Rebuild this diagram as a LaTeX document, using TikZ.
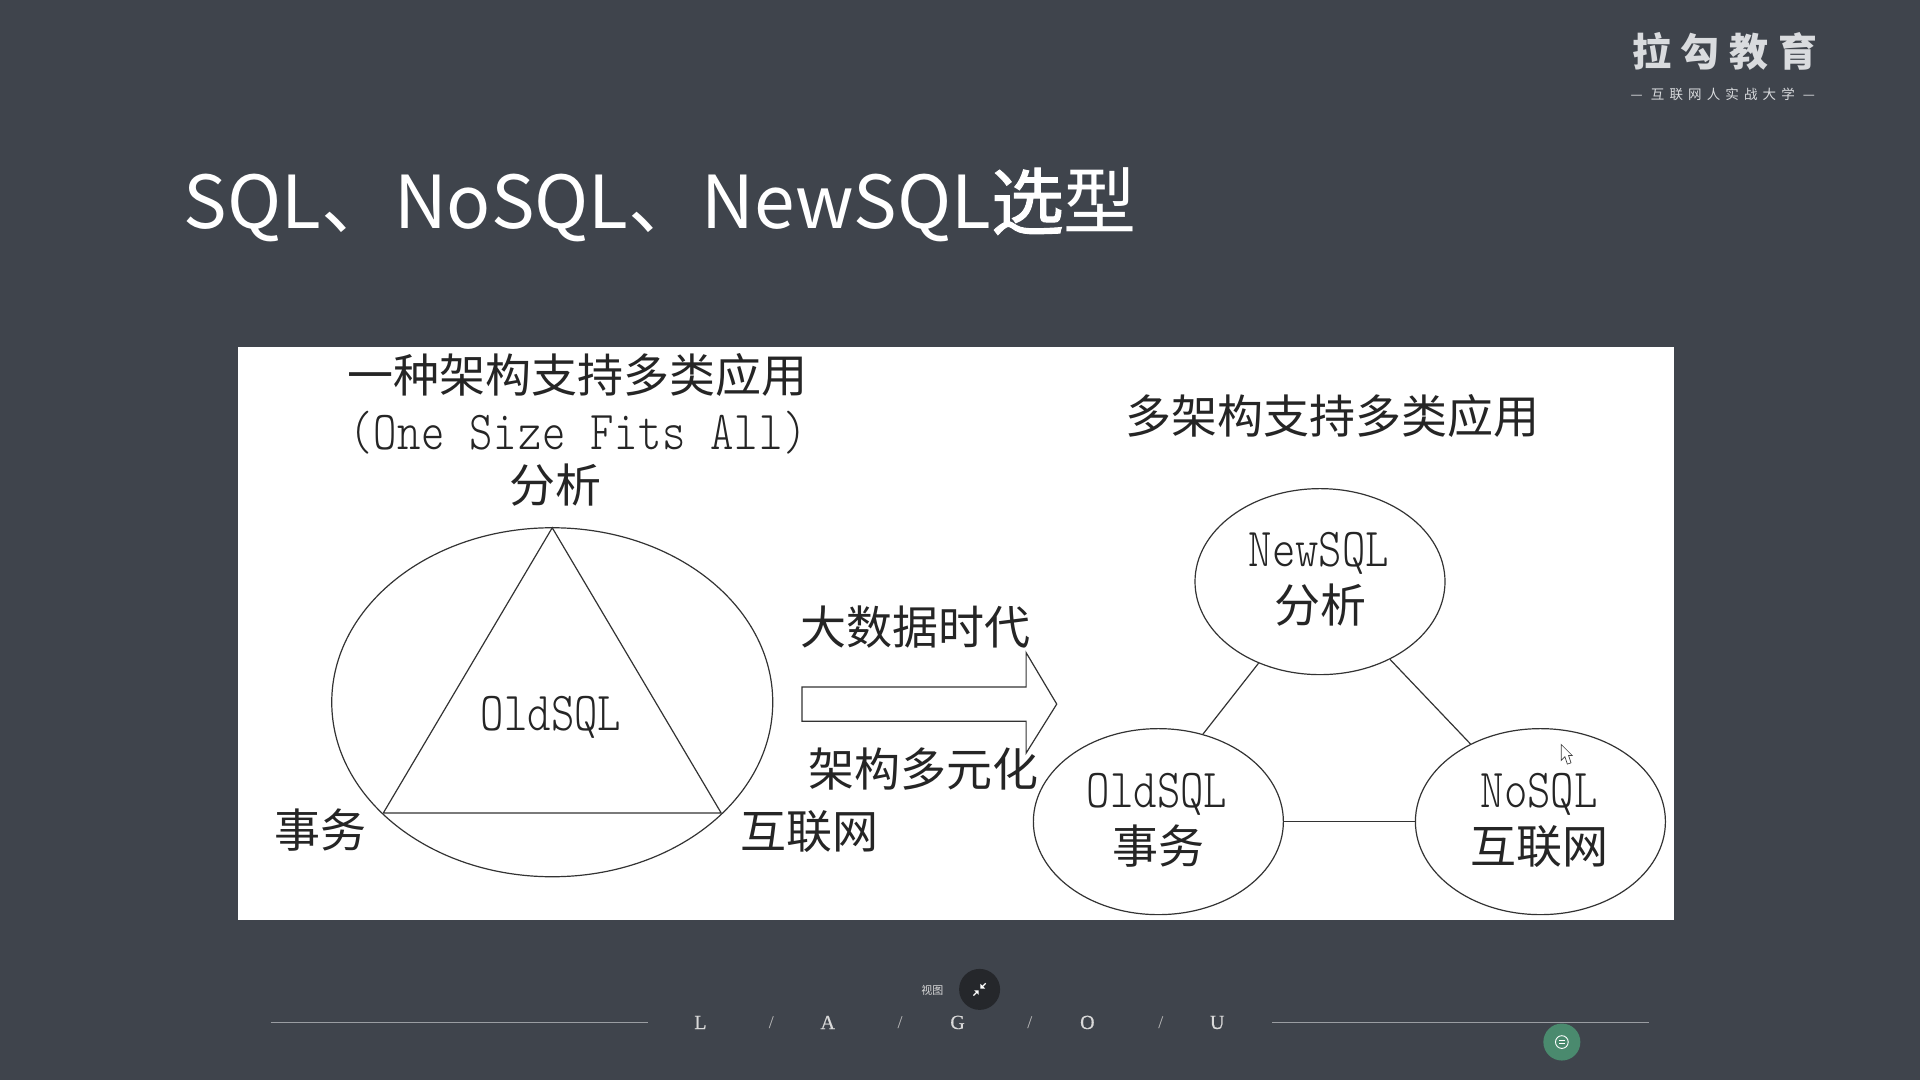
\documentclass[tikz,border=0pt]{standalone}
\usepackage{fontspec}
\usetikzlibrary{shapes.geometric}
\setmainfont{Liberation Serif}
\newfontfamily\cnf{Noto Sans CJK SC}
\newfontfamily\cnsp[LetterSpace=38]{Noto Sans CJK SC}
\newfontfamily\logof[LetterSpace=25]{Noto Sans CJK SC}
\newfontfamily\latf[FakeStretch=0.81]{Latin Modern Mono Light}
\newfontfamily\latw[FakeStretch=0.81,LetterSpace=1.6]{Latin Modern Mono Light}
\newfontfamily\boldish[FakeBold=1.4]{Noto Sans CJK SC}
\newfontfamily\footf[FakeBold=0.5]{Liberation Serif}
\definecolor{bgc}{HTML}{3F444C}
\definecolor{ink}{HTML}{252525}
\definecolor{linec}{HTML}{333333}
\definecolor{footl}{HTML}{9A9DA2}
\definecolor{logoc}{HTML}{D9DBDE}
\definecolor{btnc}{HTML}{25272B}
\definecolor{chatc}{HTML}{4A8A6E}
\tikzset{
  cjk/.style={font=\cnf\fontsize{46}{50}\selectfont,text=ink,inner sep=0pt},
  lat/.style={font=\latf\fontsize{55}{60}\selectfont,text=ink,inner sep=0pt},
  ell/.style={ellipse,draw=linec,line width=1.2pt,inner sep=0pt,minimum width=250pt,minimum height=186pt},
  wire/.style={draw=linec,line width=1.2pt},
  foot/.style={font=\footf\fontsize{20}{20}\selectfont,text=white!85!black,inner sep=0pt},
  slash/.style={font=\fontsize{18}{20}\selectfont,text=white!75!black,inner sep=0pt},
  footline/.style={draw=footl,line width=1.4pt}
}
\begin{document}
\begin{tikzpicture}[x=1.22449pt,y=-1.22449pt]
\useasboundingbox (0,0) rectangle (1568,882);
\fill[bgc] (0,0) rectangle (1568,882);
% logo
\node[inner sep=0pt,text=logoc,font=\logof\bfseries\fontsize{39}{40}\selectfont] (logo) at (1408.5,42) {拉勾教育};
\node[inner sep=0pt,text=logoc,font=\cnsp\fontsize{13.5}{15}\selectfont] (logosub) at (1407,77) {— 互联网人实战大学 —};
% title
\node[anchor=west,inner sep=0pt,text=white,font=\cnf\fontsize{73}{80}\selectfont] (title) at (150,167.5) {SQL、NoSQL、NewSQL{\boldish 选}型};
% panel
\fill[white] (194,283) rectangle (1367,751);
% left
\node[cjk] (t1) at (472,306) {一种架构支持多类应用};
\node[lat,font=\latw\fontsize{55}{60}\selectfont] (t2) at (472,353) {(One Size Fits All)};
\node[cjk] (t3) at (454,396) {分析};
\node[ellipse,draw=linec,line width=1.2pt,inner sep=0pt,minimum width=441pt,minimum height=349pt] (big) at (451,573.5) {};
\coordinate (ta) at (451,431);
\coordinate (tb) at (313,664);
\coordinate (tc) at (589,664);
\draw[wire] (ta) -- (tb) -- (tc) -- cycle;
\node[lat] (old1) at (450,586) {OldSQL};
\node[cjk] (tx) at (262,678) {事务};
\node[cjk] (hl) at (661,679) {互联网};
% arrow
\node[cjk] (dsj) at (748,512) {大数据时代};
\node[cjk] (jg) at (754,628) {架构多元化};
\coordinate (a1) at (655,561);
\coordinate (a2) at (838,561);
\coordinate (a3) at (838,533);
\coordinate (a4) at (863,575);
\coordinate (a5) at (838,615);
\coordinate (a6) at (838,589);
\coordinate (a7) at (655,589);
\draw[wire] (a1) -- (a2) -- (a3) -- (a4) -- (a5) -- (a6) -- (a7) -- cycle;
% right
\node[cjk] (r0) at (1088,340) {多架构支持多类应用};
\node[ell] (new) at (1078,475) {};
\node[ell] (oldn) at (946,671) {};
\node[ell] (nos) at (1258,671) {};
\node[lat] (newa) at (1077,452) {NewSQL};
\node[cjk] (newb) at (1078,494) {分析};
\node[lat] (olda) at (945,649) {OldSQL};
\node[cjk] (oldb) at (946,691) {事务};
\node[lat] (nosa) at (1257,649) {NoSQL};
\node[cjk] (nosb) at (1257,691) {互联网};
\draw[wire] (new.233) -- (oldn.63);
\draw[wire] (new.312) -- (nos.132);
\draw[wire,line width=1.6pt] (oldn.east) -- (nos.west);
% cursor
\coordinate (c1) at (1275,608);
\coordinate (c2) at (1275,621);
\coordinate (c3) at (1278,618);
\coordinate (c4) at (1280,624);
\coordinate (c5) at (1283,623);
\coordinate (c6) at (1281,617);
\coordinate (c7) at (1284,617);
\draw[fill=white,draw=black!75,line width=.7pt] (c1) -- (c2) -- (c3) -- (c4) -- (c5) -- (c6) -- (c7) -- cycle;
% footer
\coordinate (f1) at (221,835);\coordinate (f2) at (529,835);
\coordinate (f3) at (1039,835);\coordinate (f4) at (1347,835);
\draw[footline] (f1) -- (f2);
\draw[footline] (f3) -- (f4);
\node[foot] (fL) at (572,835) {L};
\node[slash] (s1) at (630,835.5) {/};
\node[foot] (fA) at (676,835) {A};
\node[slash] (s2) at (735,835.5) {/};
\node[foot] (fG) at (782,835) {G};
\node[slash] (s3) at (841,835.5) {/};
\node[foot] (fO) at (888,835) {O};
\node[slash] (s4) at (948,835.5) {/};
\node[foot] (fU) at (994,835) {U};
% view button
\node[circle,fill=btnc,inner sep=0pt,minimum size=41pt] (btn) at (800,808) {};
\node[inner sep=0pt,text=white!85!black,font=\cnf\fontsize{11}{12}\selectfont] (vw) at (761.5,808.5) {视图};
\draw[white,line width=1.1pt] (795,813) -- (798,810) (802,806) -- (805,803);
\fill[white] (799.3,808.7) -- (795.5,808.7) -- (799.3,812.5) -- cycle;
\fill[white] (800.7,807.3) -- (804.5,807.3) -- (800.7,803.5) -- cycle;
% chat button
\node[circle,fill=chatc,inner sep=0pt,minimum size=37pt] (chat) at (1275.5,851) {};
\draw[white,line width=.9pt] (1275.5,851) circle (5.2);
\draw[white,line width=.8pt] (1273,849.8) -- (1278,849.8) (1273,852) -- (1278,852);
\end{tikzpicture}
\end{document}
